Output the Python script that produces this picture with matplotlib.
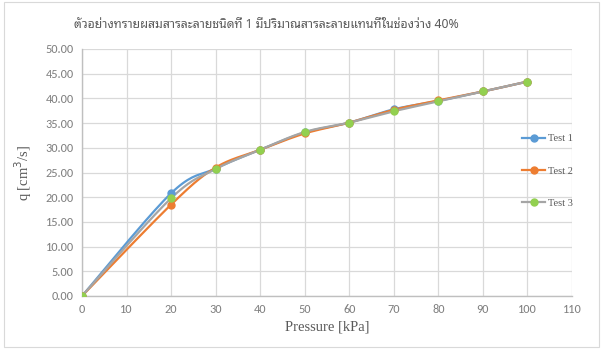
import matplotlib
matplotlib.use("Agg")
import matplotlib.pyplot as plt
import numpy as np
from matplotlib.patches import Rectangle
from matplotlib.lines import Line2D

pressure = [0, 20, 30, 40, 50, 60, 70, 80, 90, 100]
test1 = [0.0, 20.8, 25.8, 29.6, 33.1, 35.1, 37.8, 39.5, 41.4, 43.4]
test2 = [0.0, 18.5, 26.0, 29.6, 32.9, 35.1, 37.7, 39.6, 41.4, 43.4]
test3 = [0.0, 19.8, 25.7, 29.6, 33.2, 35.1, 37.4, 39.4, 41.4, 43.4]
labels = ["Test 1", "Test 2", "Test 3"]
title = "ตัวอย่างทรายผสมสารละลายชนิดที่ 1 มีปริมาณสารละลายแทนที่ในช่องว่าง 40%"
xlabel = "Pressure [kPa]"
ylabel = "q [cm$^3$/s]"

line_colors = ["#5B9BD5", "#ED7D31", "#A5A5A5"]
marker_colors = ["#5B9BD5", "#ED7D31", "#92D050"]


def smooth(x, y, n=20):
    x = np.asarray(x, float)
    y = np.asarray(y, float)
    P = np.column_stack([x, y])
    P = np.vstack([P[0], P, P[-1]])
    out = []
    t = np.linspace(0, 1, n, endpoint=False)
    for i in range(1, len(P) - 2):
        p0, p1, p2, p3 = P[i - 1], P[i], P[i + 1], P[i + 2]
        t2 = t[:, None]
        pts = 0.5 * ((2 * p1) + (-p0 + p2) * t2 + (2 * p0 - 5 * p1 + 4 * p2 - p3) * t2 ** 2
                     + (-p0 + 3 * p1 - 3 * p2 + p3) * t2 ** 3)
        out.append(pts)
    out.append(P[-2][None, :])
    out = np.vstack(out)
    return out[:, 0], out[:, 1]


fig = plt.figure(figsize=(6.04, 3.49), dpi=100)
fig.patch.set_facecolor("white")
fig.add_artist(Rectangle((4 / 604, 1 - 347 / 349), 595 / 604, 345 / 349,
                         transform=fig.transFigure, fill=False,
                         edgecolor="#d9d9d9", linewidth=0.8))

ax = fig.add_axes([82 / 604, 1 - 296 / 349, 490 / 604, 247 / 349])
ax.set_xlim(0, 110)
ax.set_ylim(0, 50)
ax.set_xticks(np.arange(0, 111, 10))
ax.set_yticks(np.arange(0, 51, 5))
ax.set_yticklabels([f"{v:.2f}" for v in np.arange(0, 51, 5)])
ax.grid(True, color="#d9d9d9", linewidth=0.9)
ax.set_axisbelow(True)
for s in ["top", "right"]:
    ax.spines[s].set_visible(False)
for s in ["left", "bottom"]:
    ax.spines[s].set_color("#bfbfbf")
    ax.spines[s].set_linewidth(1.0)
ax.tick_params(length=0, pad=6, labelsize=8.8, labelcolor="#7f7f7f")
for lab in ax.get_xticklabels() + ax.get_yticklabels():
    lab.set_fontfamily(["Carlito", "Lato", "DejaVu Sans"])

for ys, lc, mc in zip([test1, test2, test3], line_colors, marker_colors):
    sx, sy = smooth(pressure, ys)
    ax.plot(sx, sy, color=lc, linewidth=1.6, solid_capstyle="round", zorder=3)
for ys, mc in zip([test1, test2, test3], marker_colors):
    ax.plot(pressure, ys, linestyle="none", marker="o", markersize=5,
            color=mc, markeredgecolor=mc, zorder=4)

ax.set_xlabel(xlabel, family="Liberation Serif", fontsize=10.5, color="#595959", labelpad=4)
ax.set_ylabel(ylabel, family="Liberation Serif", fontsize=10.5, color="#595959", labelpad=8)

fig.text(266 / 604, 1 - 25 / 349, title, ha="center", va="center",
         fontsize=8.8, color="#595959", family=["Noto Sans Thai Looped", "DejaVu Sans"])

handles = [Line2D([0], [0], color=lc, linewidth=1.6, marker="o", markersize=5,
                  markerfacecolor=mc, markeredgecolor=mc)
           for lc, mc in zip(line_colors, marker_colors)]
leg = fig.legend(handles, labels, loc="center left",
                 bbox_to_anchor=(513 / 604, 1 - 171 / 349), frameon=False,
                 handlelength=2.2, handletextpad=0.3, labelspacing=2.2,
                 prop={"family": "Liberation Serif", "size": 7.5})
for t in leg.get_texts():
    t.set_color("#595959")

fig.savefig("out.png", dpi=100, facecolor="white")
